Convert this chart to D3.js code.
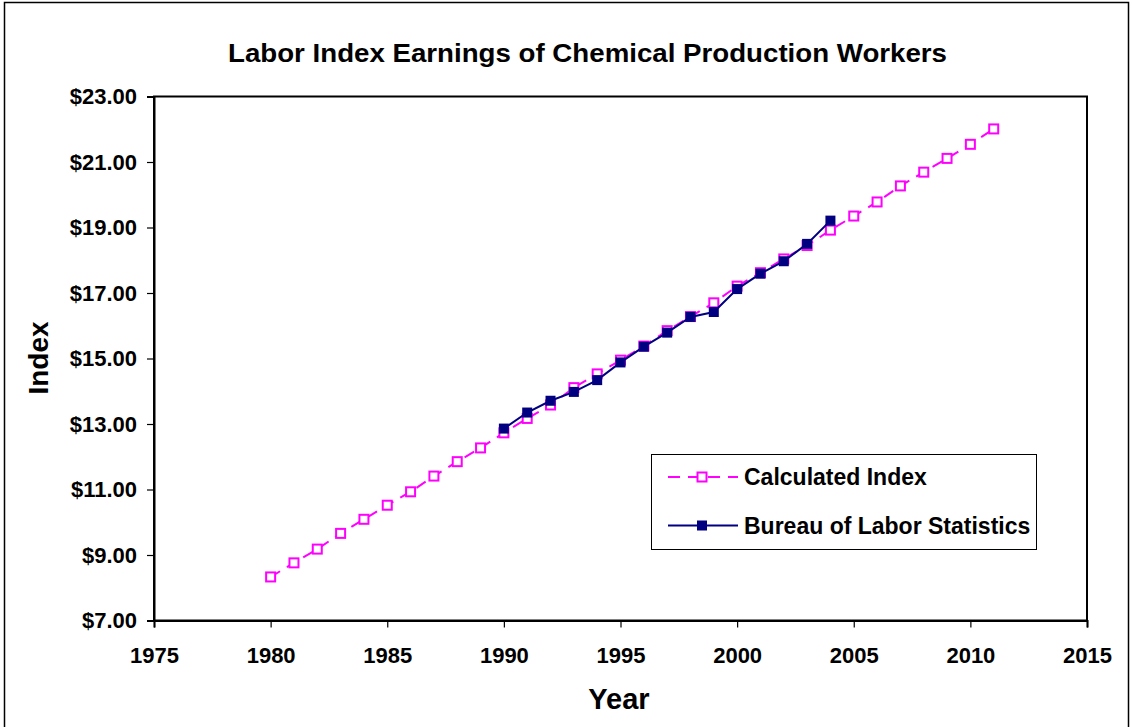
<!DOCTYPE html>
<html>
<head>
<meta charset="utf-8">
<script src="https://cdn.jsdelivr.net/npm/d3@7"></script>
<style>
  html, body { margin: 0; padding: 0; background: #fff; }
  svg { display: block; font-family: "Liberation Sans", Arial, sans-serif; font-weight: bold; }
</style>
</head>
<body>
<svg id="chart" width="1132" height="727"></svg>
<script>
// Calculated index, one value per year 1980–2011
const calcYears = d3.range(1980, 2012);
const calcValues = [8.33, 8.76, 9.18, 9.66, 10.09, 10.52, 10.93, 11.41, 11.85, 12.27,
                    12.73, 13.17, 13.58, 14.11, 14.53, 14.95, 15.38, 15.85, 16.28, 16.70,
                    17.21, 17.62, 18.04, 18.45, 18.92, 19.35, 19.78, 20.27, 20.69, 21.11,
                    21.54, 22.01];

// Bureau of Labor Statistics earnings, 1990–2004
const blsYears = d3.range(1990, 2005);
const blsValues = [12.86, 13.35, 13.71, 13.98, 14.34, 14.88, 15.36, 15.79, 16.27, 16.42,
                   17.12, 17.59, 17.97, 18.50, 19.21];

const xTicks = [1975, 1980, 1985, 1990, 1995, 2000, 2005, 2010, 2015];
const yTicks = [7, 9, 11, 13, 15, 17, 19, 21, 23];

const titleText = "Labor Index Earnings of Chemical Production Workers";
const seriesNames = ["Calculated Index", "Bureau of Labor Statistics"];

const svg = d3.select("#chart");
const W = 1132, H = 727;
const plot = { left: 154, right: 1087, top: 96.5, bottom: 620.5 };

const x = d3.scaleLinear().domain([1975, 2015]).range([plot.left, plot.right]);
const y = d3.scaleLinear().domain([7, 23]).range([plot.bottom, plot.top]);

// outer chart border
svg.append("rect")
  .attr("x", 4.5).attr("y", 2.5).attr("width", W - 8).attr("height", H)
  .attr("fill", "#fff").attr("stroke", "#000").attr("stroke-width", 1.5);

// title
svg.append("text")
  .attr("x", 587.5).attr("y", 62)
  .attr("text-anchor", "middle")
  .attr("font-size", 26)
  .attr("textLength", 719).attr("lengthAdjust", "spacingAndGlyphs")
  .text(titleText);

// plot area frame
svg.append("rect")
  .attr("x", plot.left).attr("y", plot.top)
  .attr("width", plot.right - plot.left).attr("height", plot.bottom - plot.top)
  .attr("fill", "#fff").attr("stroke", "#000").attr("stroke-width", 2);

// axes
const xAxis = svg.append("g")
  .attr("transform", `translate(0,${plot.bottom})`)
  .call(d3.axisBottom(x).tickValues(xTicks).tickFormat(d3.format("d")).tickSize(7).tickPadding(20));
const yAxis = svg.append("g")
  .attr("transform", `translate(${plot.left},0)`)
  .call(d3.axisLeft(y).tickValues(yTicks).tickFormat(d => "$" + d.toFixed(2)).tickSize(7).tickPadding(10));

[xAxis, yAxis].forEach(g => {
  g.select(".domain").attr("stroke", "#000").attr("stroke-width", 2);
  g.selectAll(".tick line").attr("stroke", "#000").attr("stroke-width", 1.2);
  g.selectAll(".tick text").attr("fill", "#000")
    .attr("font-size", 22).attr("font-weight", "bold")
    .attr("font-family", "'Liberation Sans', Arial, sans-serif");
});

// axis titles
svg.append("text")
  .attr("x", 619).attr("y", 709)
  .attr("text-anchor", "middle").attr("font-size", 29)
  .text("Year");
svg.append("text")
  .attr("transform", "translate(48,358) rotate(-90)")
  .attr("text-anchor", "middle").attr("font-size", 28)
  .text("Index");

const pink = "#FF00FF", navy = "#000080";

const calcData = calcYears.map((yr, i) => ({ yr, v: calcValues[i] }));
const blsData = blsYears.map((yr, i) => ({ yr, v: blsValues[i] }));
const line = d3.line().x(d => x(d.yr)).y(d => y(d.v));

// calculated index: dashed magenta line, open square markers
svg.append("path").datum(calcData)
  .attr("d", line).attr("fill", "none")
  .attr("stroke", pink).attr("stroke-width", 2)
  .attr("stroke-dasharray", "11,8");
svg.append("g").selectAll("rect").data(calcData).join("rect")
  .attr("x", d => x(d.yr) - 4.5).attr("y", d => y(d.v) - 4.5)
  .attr("width", 9).attr("height", 9)
  .attr("fill", "#fff").attr("stroke", pink).attr("stroke-width", 2);

// BLS series: solid navy line, filled square markers
svg.append("path").datum(blsData)
  .attr("d", line).attr("fill", "none")
  .attr("stroke", navy).attr("stroke-width", 2);
svg.append("g").selectAll("rect").data(blsData).join("rect")
  .attr("x", d => x(d.yr) - 5).attr("y", d => y(d.v) - 5)
  .attr("width", 10).attr("height", 10)
  .attr("fill", navy);

// legend
const legend = svg.append("g");
legend.append("rect")
  .attr("x", 651.5).attr("y", 454.5).attr("width", 385).attr("height", 95)
  .attr("fill", "#fff").attr("stroke", "#000").attr("stroke-width", 1);

const rows = [
  { name: seriesNames[0], cy: 477, color: pink, dashed: true },
  { name: seriesNames[1], cy: 525.5, color: navy, dashed: false }
];
rows.forEach(r => {
  legend.append("line")
    .attr("x1", 668).attr("x2", 738).attr("y1", r.cy).attr("y2", r.cy)
    .attr("stroke", r.color).attr("stroke-width", 2)
    .attr("stroke-dasharray", r.dashed ? "12,8" : null);
  if (r.dashed) {
    legend.append("rect")
      .attr("x", 697.5).attr("y", r.cy - 4.5).attr("width", 9).attr("height", 9)
      .attr("fill", "#fff").attr("stroke", r.color).attr("stroke-width", 2);
  } else {
    legend.append("rect")
      .attr("x", 697).attr("y", r.cy - 5).attr("width", 10).attr("height", 10)
      .attr("fill", r.color);
  }
  legend.append("text")
    .attr("x", 744).attr("y", r.cy).attr("dy", "0.36em")
    .attr("font-size", 23)
    .text(r.name);
});
</script>
</body>
</html>
